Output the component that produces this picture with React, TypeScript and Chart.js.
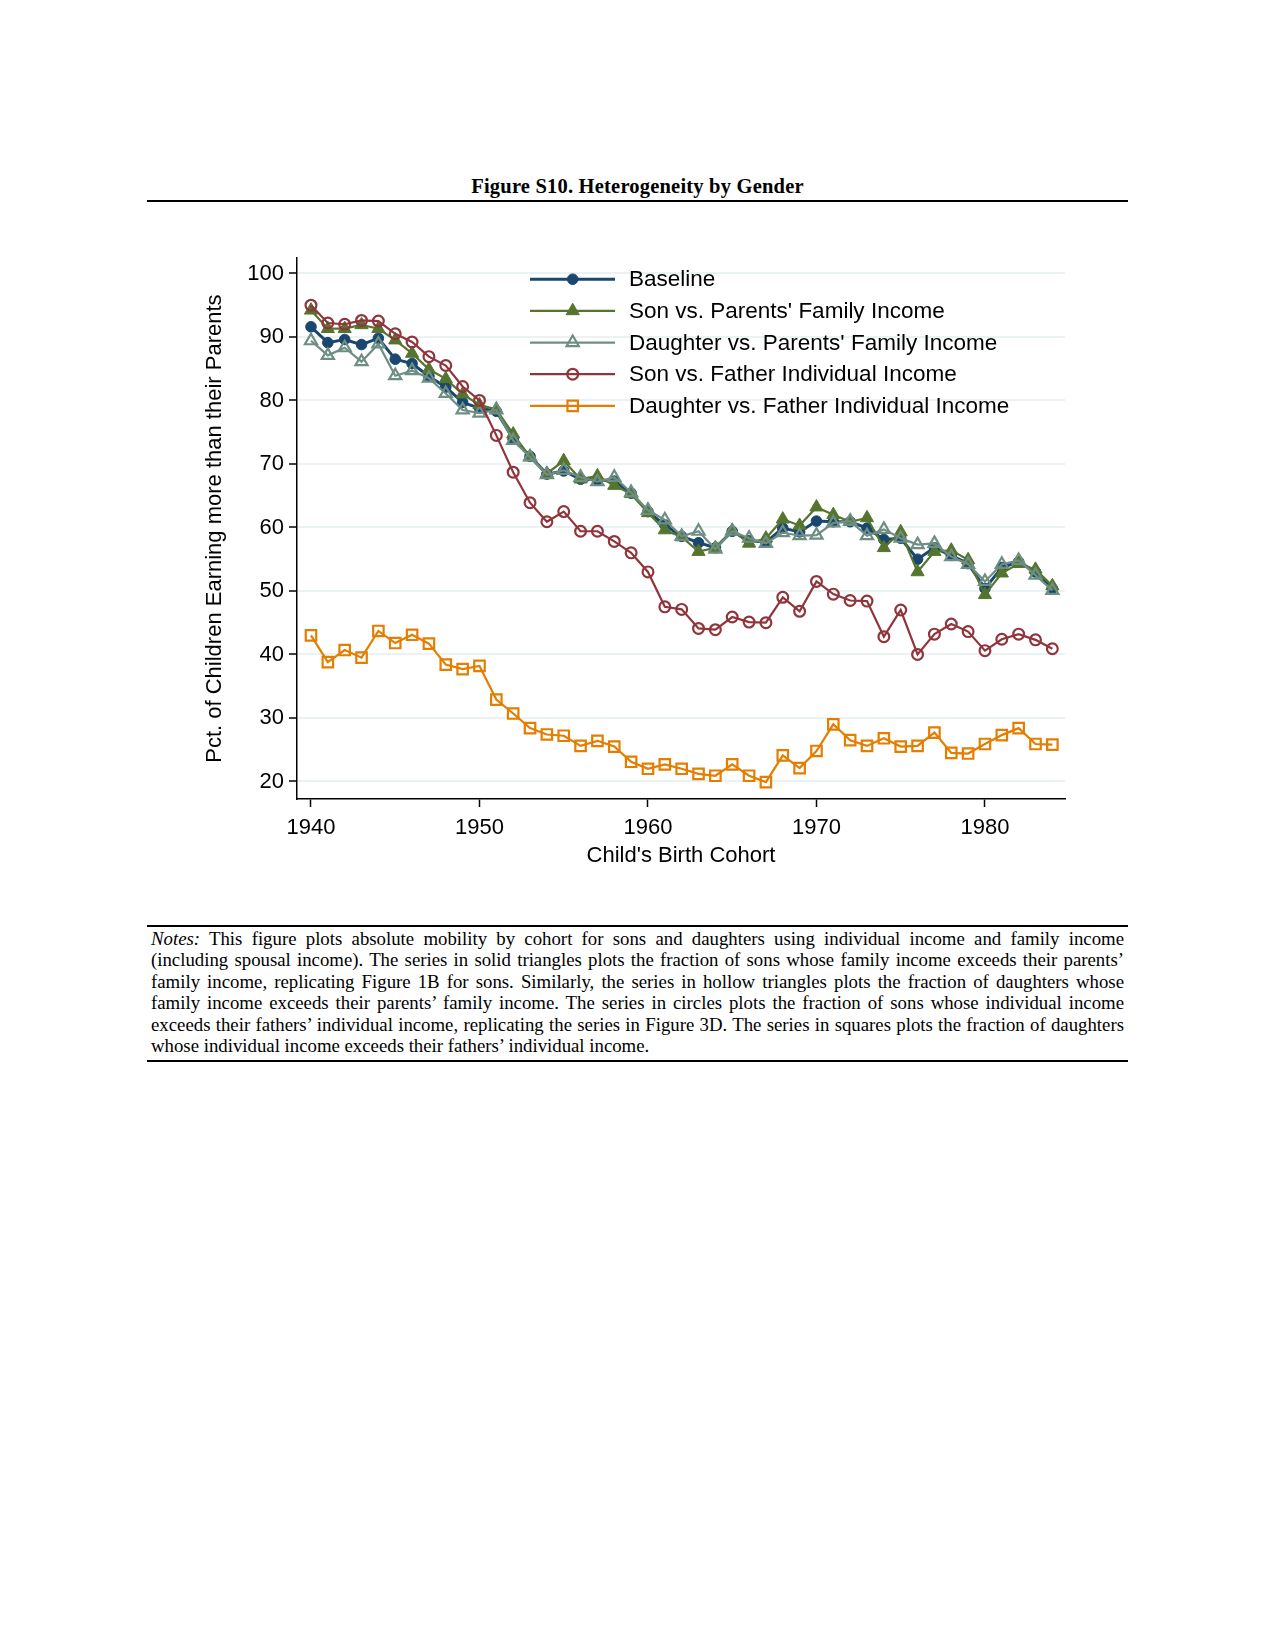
import React, { useEffect, useRef } from 'react';
import { Chart, registerables } from 'chart.js';

Chart.register(...registerables);

const years = [
  1940, 1941, 1942, 1943, 1944, 1945, 1946, 1947, 1948, 1949,
  1950, 1951, 1952, 1953, 1954, 1955, 1956, 1957, 1958, 1959,
  1960, 1961, 1962, 1963, 1964, 1965, 1966, 1967, 1968, 1969,
  1970, 1971, 1972, 1973, 1974, 1975, 1976, 1977, 1978, 1979,
  1980, 1981, 1982, 1983, 1984,
];

const baseline = [
  91.6, 89.1, 89.6, 88.8, 89.8, 86.5, 85.8, 83.8, 82.1, 79.7,
  78.8, 78.3, 73.9, 71.2, 68.4, 68.9, 67.6, 67.5, 67.3, 65.4,
  62.5, 60.4, 58.6, 57.6, 56.8, 59.4, 57.9, 57.7, 59.9, 59.3,
  61.0, 60.9, 60.9, 59.9, 58.1, 58.3, 55.0, 56.8, 55.6, 54.3,
  50.4, 53.7, 54.6, 53.0, 50.4,
];

const sonParents = [
  94.2, 91.3, 91.3, 91.9, 91.3, 89.5, 87.4, 84.9, 83.4, 81.0,
  79.3, 78.6, 74.7, 71.1, 68.5, 70.5, 67.6, 68.1, 66.6, 65.3,
  62.3, 59.6, 58.5, 56.2, 56.8, 59.5, 57.5, 58.3, 61.3, 60.3,
  63.2, 62.0, 60.9, 61.5, 56.8, 59.3, 53.0, 56.2, 56.4, 54.9,
  49.4, 52.8, 54.3, 53.4, 50.8,
];

const daughterParents = [
  89.4, 87.1, 88.3, 86.1, 88.9, 83.9, 84.7, 83.5, 81.1, 78.5,
  78.0, 78.5, 73.7, 71.1, 68.3, 69.0, 67.9, 67.2, 67.9, 65.5,
  62.7, 61.2, 58.6, 59.4, 56.6, 59.4, 58.3, 57.5, 59.2, 58.7,
  58.8, 60.7, 61.0, 58.7, 59.7, 58.3, 57.3, 57.5, 55.4, 54.2,
  51.5, 54.2, 54.8, 52.5, 50.1,
];

const sonFather = [
  95.0, 92.2, 92.0, 92.6, 92.5, 90.5, 89.2, 86.9, 85.5, 82.2,
  80.0, 74.5, 68.7, 63.9, 60.9, 62.5, 59.4, 59.4, 57.8, 56.0,
  53.0, 47.5, 47.1, 44.1, 43.9, 45.9, 45.1, 45.0, 49.0, 46.8,
  51.5, 49.5, 48.5, 48.4, 42.8, 47.0, 40.0, 43.2, 44.8, 43.6,
  40.6, 42.4, 43.2, 42.3, 40.9,
];

const daughterFather = [
  43.0, 38.8, 40.7, 39.5, 43.7, 41.8, 43.1, 41.7, 38.4, 37.7,
  38.2, 32.9, 30.7, 28.4, 27.4, 27.2, 25.6, 26.4, 25.5, 23.1,
  22.0, 22.7, 22.0, 21.2, 20.9, 22.7, 20.9, 19.9, 24.1, 22.1,
  24.8, 29.0, 26.5, 25.6, 26.8, 25.5, 25.6, 27.7, 24.5, 24.4,
  25.9, 27.3, 28.4, 25.9, 25.8,
];

const seriesLabels = [
  'Baseline',
  "Son vs. Parents' Family Income",
  "Daughter vs. Parents' Family Income",
  'Son vs. Father Individual Income',
  'Daughter vs. Father Individual Income',
];

const xTicks = [1940, 1950, 1960, 1970, 1980];
const yTicks = [20, 30, 40, 50, 60, 70, 80, 90, 100];

const NAVY = '#1a476f';
const GREEN = '#55752f';
const TEAL = '#6e8e84';
const MAROON = '#90353b';
const ORANGE = '#e37e00';

const FONT = "'Liberation Sans', Arial, sans-serif";

function drawMarker(ctx: CanvasRenderingContext2D, style: string, x: number, y: number, r: number) {
  ctx.beginPath();
  if (style === 'circle') {
    ctx.arc(x, y, r, 0, Math.PI * 2);
  } else if (style === 'triangle') {
    ctx.moveTo(x, y - r);
    ctx.lineTo(x + 0.866 * r, y + 0.5 * r);
    ctx.lineTo(x - 0.866 * r, y + 0.5 * r);
  } else if (style === 'rect') {
    const s = Math.SQRT1_2 * r;
    ctx.rect(x - s, y - s, 2 * s, 2 * s);
  }
  ctx.closePath();
}

const insideLegend = {
  id: 'insideLegend',
  afterDatasetsDraw(chart: any) {
    const { ctx, chartArea } = chart;
    const x1 = chartArea.left + 233;
    const x2 = chartArea.left + 318;
    const xm = chartArea.left + 275.7;
    const xt = chartArea.left + 332;
    ctx.save();
    chart.data.datasets.forEach((ds: any, i: number) => {
      const y = chartArea.top + 21 + i * 31.67;
      ctx.strokeStyle = ds.borderColor;
      ctx.lineWidth = ds.borderWidth;
      ctx.beginPath();
      ctx.moveTo(x1, y);
      ctx.lineTo(x2, y);
      ctx.stroke();
      drawMarker(ctx, ds.pointStyle, xm, y, ds.pointRadius);
      ctx.fillStyle = ds.pointBackgroundColor;
      ctx.fill();
      ctx.lineWidth = ds.pointBorderWidth;
      ctx.strokeStyle = ds.pointBorderColor;
      ctx.stroke();
      ctx.fillStyle = '#000';
      ctx.font = `22.5px ${FONT}`;
      ctx.textAlign = 'left';
      ctx.textBaseline = 'middle';
      ctx.fillText(ds.label, xt, y + 1);
    });
    ctx.restore();
  },
};

const notesLines = [
  'This figure plots absolute mobility by cohort for sons and daughters using individual income and family income',
  '(including spousal income). The series in solid triangles plots the fraction of sons whose family income exceeds their parents’',
  'family income, replicating Figure 1B for sons. Similarly, the series in hollow triangles plots the fraction of daughters whose',
  'family income exceeds their parents’ family income. The series in circles plots the fraction of sons whose individual income',
  'exceeds their fathers’ individual income, replicating the series in Figure 3D. The series in squares plots the fraction of daughters',
  'whose individual income exceeds their fathers’ individual income.',
];

export default function App() {
  const canvasRef = useRef<HTMLCanvasElement | null>(null);

  useEffect(() => {
    if (!canvasRef.current) return;
    const mk = (vals: number[]) => years.map((x, i) => ({ x, y: vals[i] }));
    const chart = new Chart(canvasRef.current, {
      type: 'line',
      data: {
        datasets: [
          {
            label: seriesLabels[0], data: mk(baseline), borderColor: NAVY, backgroundColor: NAVY,
            borderWidth: 3, pointStyle: 'circle', pointRadius: 5.3, pointBorderWidth: 1,
            pointBackgroundColor: NAVY, pointBorderColor: NAVY, order: 5,
          },
          {
            label: seriesLabels[1], data: mk(sonParents), borderColor: GREEN, backgroundColor: GREEN,
            borderWidth: 2.2, pointStyle: 'triangle', pointRadius: 7.6, pointBorderWidth: 1,
            pointBackgroundColor: GREEN, pointBorderColor: GREEN, order: 4,
          },
          {
            label: seriesLabels[2], data: mk(daughterParents), borderColor: TEAL, backgroundColor: TEAL,
            borderWidth: 2.2, pointStyle: 'triangle', pointRadius: 7, pointBorderWidth: 2.2,
            pointBackgroundColor: 'rgba(255,255,255,0)', pointBorderColor: TEAL, order: 3,
          },
          {
            label: seriesLabels[3], data: mk(sonFather), borderColor: MAROON, backgroundColor: MAROON,
            borderWidth: 2.2, pointStyle: 'circle', pointRadius: 5.4, pointBorderWidth: 2.2,
            pointBackgroundColor: 'rgba(255,255,255,0)', pointBorderColor: MAROON, order: 2,
          },
          {
            label: seriesLabels[4], data: mk(daughterFather), borderColor: ORANGE, backgroundColor: ORANGE,
            borderWidth: 2.2, pointStyle: 'rect', pointRadius: 7.4, pointBorderWidth: 2.2,
            pointBackgroundColor: 'rgba(255,255,255,0)', pointBorderColor: ORANGE, order: 1,
          },
        ] as any,
      },
      options: {
        responsive: false,
        animation: false,
        events: [],
        layout: { padding: { top: 14, right: 25, left: 0, bottom: 0 } },
        elements: { line: { tension: 0 } },
        plugins: { legend: { display: false }, tooltip: { enabled: false }, title: { display: false } },
        scales: {
          x: {
            type: 'linear',
            min: 1939.17,
            max: 1984.75,
            afterBuildTicks: (s: any) => { s.ticks = xTicks.map((v) => ({ value: v })); },
            afterFit: (s: any) => { s.height = 81; },
            grid: { display: true, drawOnChartArea: false, drawTicks: true, tickLength: 8, tickColor: '#000', tickWidth: 1.5 },
            border: { display: true, color: '#000', width: 1.5 },
            ticks: { color: '#000', font: { family: FONT, size: 22 }, padding: 8, maxRotation: 0, autoSkip: false, callback: (v: any) => String(v) },
            title: { display: true, text: "Child's Birth Cohort", color: '#000', font: { family: FONT, size: 22 }, padding: { top: 0, bottom: 11 } },
          },
          y: {
            type: 'linear',
            min: 17.24,
            max: 102.4,
            afterBuildTicks: (s: any) => { s.ticks = yTicks.map((v) => ({ value: v })); },
            afterFit: (s: any) => { s.width = 147; },
            grid: { display: true, drawOnChartArea: true, color: '#eaf2f3', lineWidth: 2, drawTicks: true, tickLength: 8, tickColor: '#000', tickWidth: 1.5 },
            border: { display: true, color: '#000', width: 1.5 },
            ticks: { color: '#000', font: { family: FONT, size: 22 }, padding: 5, autoSkip: false, callback: (v: any) => String(v) },
            title: { display: true, text: 'Pct. of Children Earning more than their Parents', color: '#000', font: { family: FONT, size: 22 }, padding: { top: 52, bottom: 0 } },
          },
        },
      } as any,
      plugins: [insideLegend],
    });
    return () => chart.destroy();
  }, []);

  return (
    <div style={{ position: 'absolute', left: 0, top: 0, width: 1275, height: 1650, background: '#fff' }}>
      <div
        style={{
          position: 'absolute', left: 0, top: 174, width: 1275, lineHeight: '24px', textAlign: 'center',
          fontFamily: "'Liberation Serif', 'Times New Roman', serif", fontWeight: 'bold', fontSize: 20.5,
          letterSpacing: '0.2px', color: '#000',
        }}
      >
        Figure S10. Heterogeneity by Gender
      </div>
      <div style={{ position: 'absolute', left: 147, top: 200, width: 981, height: 1.5, background: '#000' }} />
      <canvas
        ref={canvasRef}
        width={940}
        height={640}
        style={{ position: 'absolute', left: 150, top: 240, width: 940, height: 640 }}
      />
      <div style={{ position: 'absolute', left: 147, top: 925, width: 981, height: 1.5, background: '#000' }} />
      <div
        style={{
          position: 'absolute', left: 151, top: 928, width: 973,
          fontFamily: "'Liberation Serif', 'Times New Roman', serif", fontSize: 18.8, lineHeight: '21.4px', color: '#000',
        }}
      >
        {notesLines.map((line, i) => (
          <div
            key={i}
            style={{
              textAlign: i === notesLines.length - 1 ? 'left' : 'justify',
              textAlignLast: i === notesLines.length - 1 ? 'left' : 'justify',
              whiteSpace: 'nowrap',
            }}
          >
            {i === 0 ? <><i>Notes:</i>{' '}</> : null}
            {line}
          </div>
        ))}
      </div>
      <div style={{ position: 'absolute', left: 147, top: 1060, width: 981, height: 1.5, background: '#000' }} />
    </div>
  );
}
